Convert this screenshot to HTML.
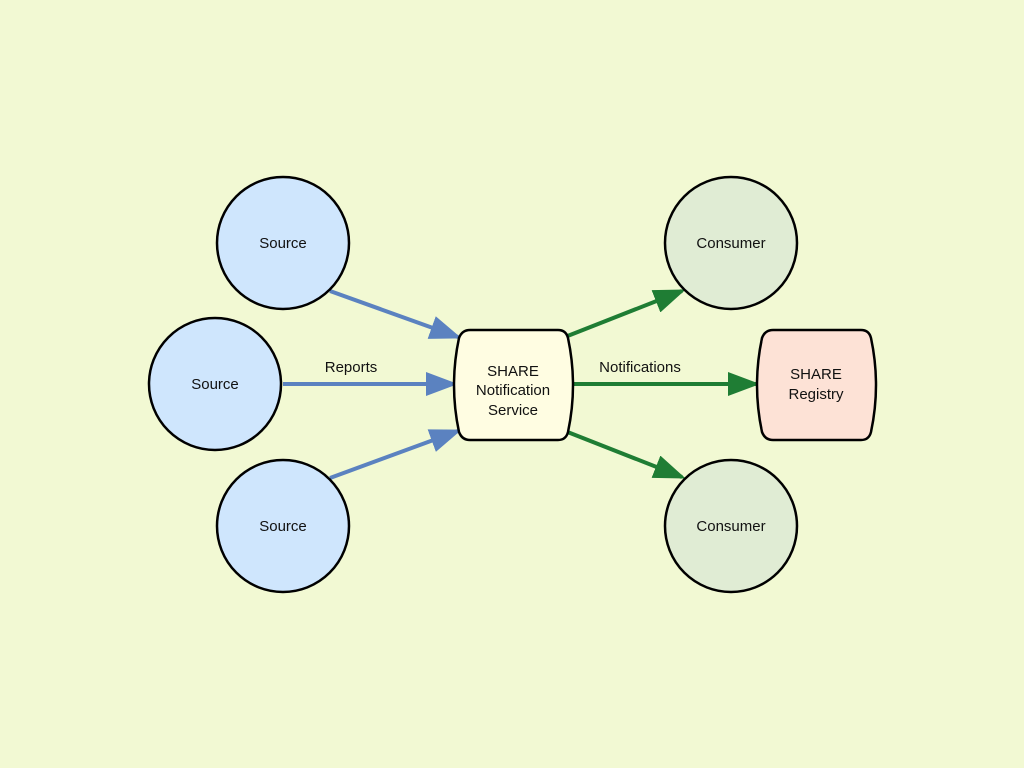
<!DOCTYPE html>
<html><head><meta charset="utf-8"><style>
html,body{margin:0;padding:0;background:#f2f9d3;}
svg{display:block}
text{font-family:"Liberation Sans",sans-serif;font-size:15px;fill:#111;text-anchor:middle}
</style></head><body>
<svg width="1024" height="768" viewBox="0 0 1024 768">
<rect width="1024" height="768" fill="#f2f9d3"/>
<defs>
<marker id="b" markerWidth="8" markerHeight="6" refX="7" refY="3" orient="auto" markerUnits="strokeWidth"><path d="M0,0 L8,3 L0,6 z" fill="#5b82c0"/></marker>
<marker id="g" markerWidth="8" markerHeight="6" refX="7" refY="3" orient="auto" markerUnits="strokeWidth"><path d="M0,0 L8,3 L0,6 z" fill="#1f7d34"/></marker>
</defs>
<g stroke-width="4" fill="none">
<line x1="330" y1="291" x2="458" y2="337" stroke="#5b82c0" marker-end="url(#b)" stroke-width="4"/>
<line x1="283" y1="384" x2="454" y2="384" stroke="#5b82c0" marker-end="url(#b)"/>
<line x1="330" y1="478" x2="458" y2="431" stroke="#5b82c0" marker-end="url(#b)"/>
<line x1="565" y1="337" x2="682" y2="291" stroke="#1f7d34" marker-end="url(#g)"/>
<line x1="572" y1="384" x2="756" y2="384" stroke="#1f7d34" marker-end="url(#g)"/>
<line x1="565" y1="431" x2="682" y2="477" stroke="#1f7d34" marker-end="url(#g)"/>
</g>
<g stroke="#000" stroke-width="2.5">
<circle cx="283" cy="243" r="66" fill="#cfe6fd"/>
<circle cx="215" cy="384" r="66" fill="#cfe6fd"/>
<circle cx="283" cy="526" r="66" fill="#cfe6fd"/>
<circle cx="731" cy="243" r="66" fill="#e0ecd4"/>
<circle cx="731" cy="526" r="66" fill="#e0ecd4"/>
<path d="M470,330 L558,330 Q566,330 568,338 Q578,385 568,432 Q566,440 558,440 L470,440 Q462,440 459,432 Q449,385 459,338 Q462,330 470,330 Z" fill="#fffde2"/>
<path d="M773,330 L861,330 Q869,330 871,338 Q881,385 871,432 Q869,440 861,440 L773,440 Q765,440 762,432 Q752,385 762,338 Q765,330 773,330 Z" fill="#fde2d6"/>
</g>
<text x="283" y="248">Source</text>
<text x="215" y="389">Source</text>
<text x="283" y="531">Source</text>
<text x="731" y="248">Consumer</text>
<text x="731" y="531">Consumer</text>
<text x="513" y="376">SHARE</text>
<text x="513" y="395">Notification</text>
<text x="513" y="415">Service</text>
<text x="816" y="379">SHARE</text>
<text x="816" y="399">Registry</text>
<text x="351" y="372">Reports</text>
<text x="640" y="372">Notifications</text>
</svg>
</body></html>
